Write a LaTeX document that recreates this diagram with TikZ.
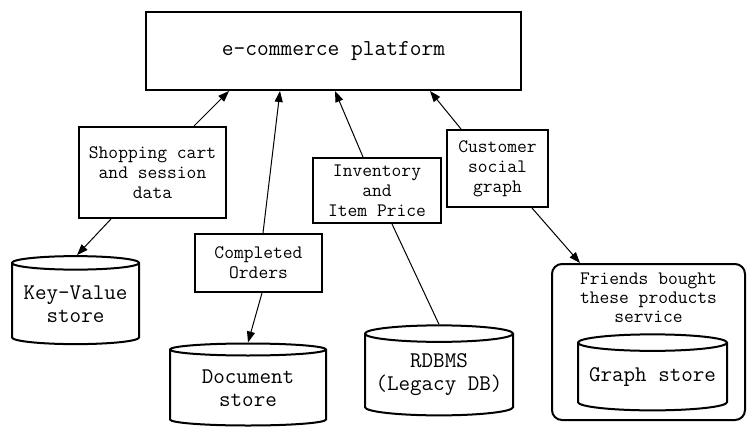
\documentclass[tikz,border=0pt]{standalone}
\usepackage{fontspec}
\usetikzlibrary{shapes.geometric,arrows.meta}
\tikzset{
  box/.style={draw, line width=2pt, rectangle, inner sep=0pt, align=center,
    font=\ttfamily\fontsize{19}{20}\selectfont},
  store/.style={draw, line width=2pt, cylinder, shape border rotate=90,
    aspect=0.13, inner sep=0pt, align=center,
    font=\ttfamily\fontsize{22.4}{23}\selectfont},
  link/.style={line width=1pt},
  flow/.style={link, -{Triangle[length=11pt,width=8pt]}},
}
\begin{document}
\begin{tikzpicture}[x=1pt,y=-1pt]
\useasboundingbox (0,0) rectangle (747,431);
% platform
\node[box, minimum width=375pt, minimum height=78pt,
  font=\ttfamily\fontsize{22.8}{24}\selectfont] (plat) at (333.5,51) {e-commerce platform};
% data-flow labels
\node[box, minimum width=147pt, minimum height=91pt] (cart) at (152.5,172.5)
  {Shopping cart\\and session\\data};
\node[box, minimum width=127pt, minimum height=58pt] (orders) at (258.5,263)
  {Completed\\Orders};
\node[box, minimum width=128pt, minimum height=65pt] (inv) at (377,190.5)
  {Inventory\\and\\Item Price};
\node[box, minimum width=101pt, minimum height=77pt] (social) at (497.5,168.5)
  {Customer\\social\\graph};
% stores
\node[store, minimum width=127pt, minimum height=88pt] (kv) at (75.5,304)
  {Key-Value\\store};
\node[store, minimum width=156pt, minimum height=82pt] (doc) at (248,388)
  {Document\\store};
\node[store, minimum width=148pt, minimum height=90pt] (rdb) at (439,375)
  {RDBMS\\(Legacy DB)};
% friends service with its graph store
\node[draw, line width=2pt, rounded corners=10pt, minimum width=193pt,
  minimum height=156pt] (svc) at (648.5,342) {};
\node[align=center, anchor=north, font=\ttfamily\fontsize{19}{19}\selectfont]
  (svclbl) at (648.5,269) {Friends bought\\these products\\service};
\node[store, minimum width=149pt, minimum height=76pt] (graph) at (652.5,377)
  {Graph store};
% connectors
\draw[flow] (cart.north -| 194,0) -- (plat.south -| 229,0);
\draw[flow] (cart.south -| 111,0) -- (kv.north -| 77,0);
\draw[flow] (orders.north -| 263,0) -- (plat.south -| 280,0);
\draw[flow] (orders.south -| 262,0) -- (doc.north -| 248,0);
\draw[flow] (inv.north -| 363,0) -- (plat.south -| 335,0);
\draw[link] (inv.south -| 392,0) -- (rdb.north -| 439,0);
\draw[flow] (social.north -| 461,0) -- (plat.south -| 430,0);
\draw[flow] (social.south -| 532,0) -- (svc.north -| 580,0);
\end{tikzpicture}
\end{document}
